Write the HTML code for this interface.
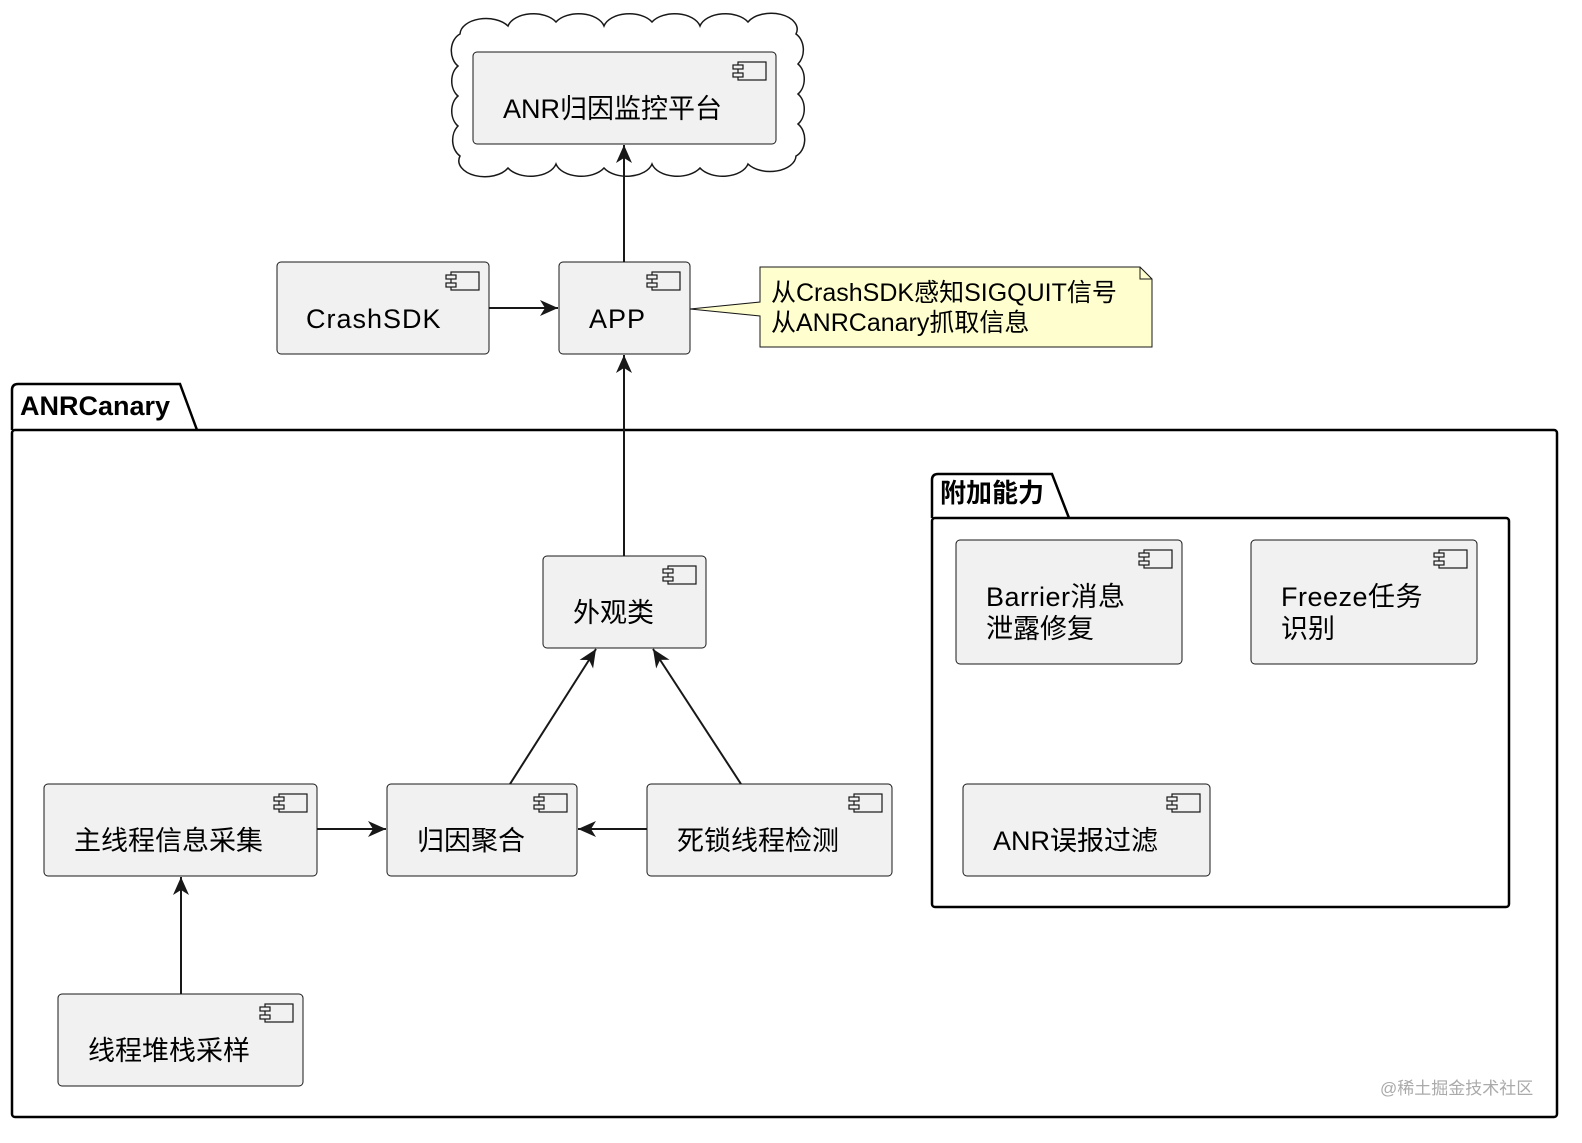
<!DOCTYPE html>
<html><head><meta charset="utf-8"><style>
html,body{margin:0;padding:0;background:#fff}
svg text{font-family:"Liberation Sans","Noto Sans CJK SC",sans-serif;fill:#000}
</style></head><body>
<svg width="1582" height="1138" viewBox="0 0 1582 1138" xmlns="http://www.w3.org/2000/svg">
<defs>
<marker id="ah" markerWidth="20" markerHeight="20" refX="18" refY="8" orient="auto" markerUnits="userSpaceOnUse">
<path d="M0,0 L18,8 L0,16 L5,8 Z" fill="#181818"/>
</marker>
<g id="ic"><rect x="0" y="0" width="28" height="18" fill="none" stroke="#181818" stroke-width="1.2"/><rect x="-5" y="3" width="10" height="4" fill="#f1f1f1" stroke="#181818" stroke-width="1.2"/><rect x="-5" y="11" width="10" height="4" fill="#f1f1f1" stroke="#181818" stroke-width="1.2"/></g>
</defs>

<path d="M460,34 a26,16 0 0 1 48,-8 a26,16 0 0 1 48,-4 a26,16 0 0 1 48,4 a26,16 0 0 1 48,-4 a26,16 0 0 1 48,4 a26,16 0 0 1 48,-4 a26,16 0 0 1 48,12
 a14,18 0 0 1 2,30 a14,18 0 0 1 0,30 a14,18 0 0 1 0,30 a14,18 0 0 1 -2,32
 a26,16 0 0 1 -48,8 a26,16 0 0 1 -48,4 a26,16 0 0 1 -48,-4 a26,16 0 0 1 -48,4 a26,16 0 0 1 -48,-4 a26,16 0 0 1 -48,4 a26,16 0 0 1 -48,-12
 a14,18 0 0 1 -2,-30 a14,18 0 0 1 0,-30 a14,18 0 0 1 0,-30 a14,18 0 0 1 2,-32 Z" fill="#fff" stroke="#181818" stroke-width="1.5"/>

<path d="M12,430 L12,390 Q12,384 18,384 L180,384 L197,430" fill="none" stroke="#000" stroke-width="2.5"/>
<rect x="12" y="430" width="1545" height="687" rx="3" fill="none" stroke="#000" stroke-width="2.5"/>
<text x="20" y="415" font-size="27" font-weight="bold">ANRCanary</text>
<path d="M932,518 L932,480 Q932,474 938,474 L1052,474 L1069,518" fill="none" stroke="#000" stroke-width="2.5"/>
<rect x="932" y="518" width="577" height="389" rx="3" fill="none" stroke="#000" stroke-width="2.5"/>
<text x="940" y="502" font-size="26" font-weight="bold">附加能力</text>

<g fill="#f1f1f1" stroke="#181818" stroke-width="1">
<rect x="473" y="52" width="303" height="92" rx="4"/>
<rect x="277" y="262" width="212" height="92" rx="4"/>
<rect x="559" y="262" width="131" height="92" rx="4"/>
<rect x="543" y="556" width="163" height="92" rx="4"/>
<rect x="956" y="540" width="226" height="124" rx="4"/>
<rect x="1251" y="540" width="226" height="124" rx="4"/>
<rect x="963" y="784" width="247" height="92" rx="4"/>
<rect x="44" y="784" width="273" height="92" rx="4"/>
<rect x="387" y="784" width="190" height="92" rx="4"/>
<rect x="647" y="784" width="245" height="92" rx="4"/>
<rect x="58" y="994" width="245" height="92" rx="4"/>
</g>
<use href="#ic" x="738" y="62"/>
<use href="#ic" x="451" y="272"/>
<use href="#ic" x="652" y="272"/>
<use href="#ic" x="668" y="566"/>
<use href="#ic" x="1144" y="550"/>
<use href="#ic" x="1439" y="550"/>
<use href="#ic" x="1172" y="794"/>
<use href="#ic" x="279" y="794"/>
<use href="#ic" x="539" y="794"/>
<use href="#ic" x="854" y="794"/>
<use href="#ic" x="265" y="1004"/>

<g font-size="27">
<text x="503" y="118">ANR归因监控平台</text>
<text x="306" y="328" letter-spacing="1">CrashSDK</text>
<text x="589" y="328" letter-spacing="1">APP</text>
<text x="573" y="622">外观类</text>
<text x="986" y="606" letter-spacing="0.5">Barrier消息</text>
<text x="986" y="638">泄露修复</text>
<text x="1281" y="606" letter-spacing="0.5">Freeze任务</text>
<text x="1281" y="638">识别</text>
<text x="993" y="850">ANR误报过滤</text>
<text x="74" y="850">主线程信息采集</text>
<text x="417" y="850">归因聚合</text>
<text x="677" y="850">死锁线程检测</text>
<text x="88" y="1060">线程堆栈采样</text>
</g>

<path d="M760,267 L1140,267 L1152,279 L1152,347 L760,347 L760,316 L690,309 L760,302 Z" fill="#fefece" stroke="#181818" stroke-width="1"/>
<path d="M1140,267 L1140,279 L1152,279" fill="none" stroke="#181818" stroke-width="1"/>
<g font-size="25"><text x="771" y="301">从CrashSDK感知SIGQUIT信号</text><text x="771" y="331">从ANRCanary抓取信息</text></g>

<g stroke="#181818" stroke-width="2" marker-end="url(#ah)" fill="none">
<line x1="624" y1="262" x2="624" y2="145"/>
<line x1="489" y1="308" x2="558" y2="308"/>
<line x1="624" y1="556" x2="624" y2="355"/>
<line x1="510" y1="784" x2="596" y2="649"/>
<line x1="741" y1="784" x2="653" y2="649"/>
<line x1="317" y1="829" x2="386" y2="829"/>
<line x1="647" y1="829" x2="578" y2="829"/>
<line x1="181" y1="994" x2="181" y2="877"/>
</g>

<text x="1380" y="1094" font-size="17" style="fill:#aaa">@稀土掘金技术社区</text>
</svg>
</body></html>
